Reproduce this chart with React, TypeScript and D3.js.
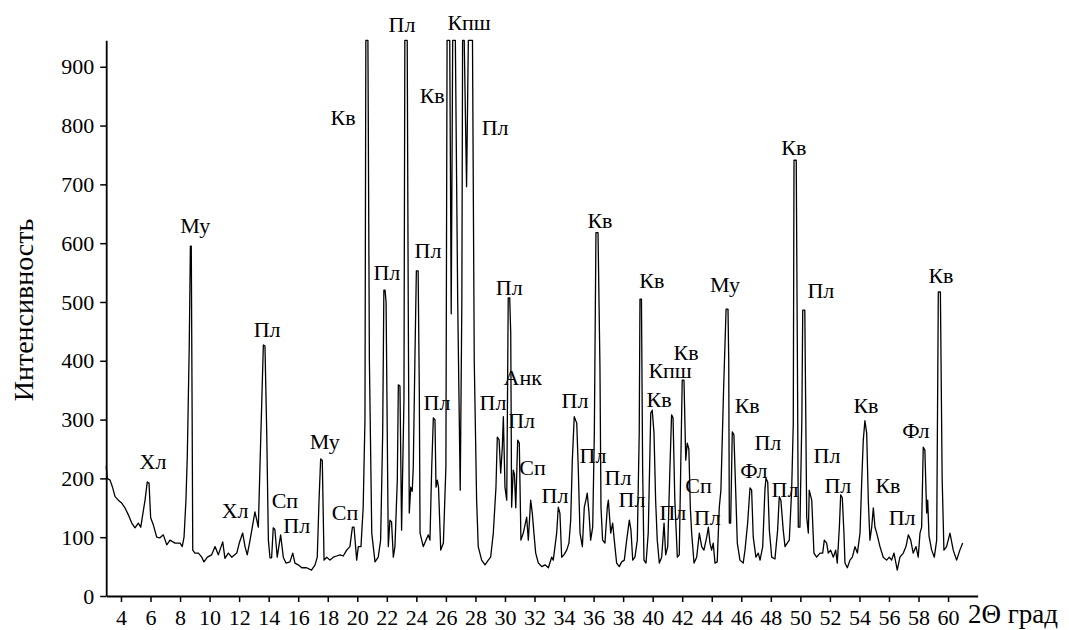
import React, { useRef, useEffect } from 'react';
import * as d3 from 'd3';

// 2θ (deg) and intensity
const twoTheta = [
  3.0, 3.07, 3.26, 3.44, 3.6, 3.82, 4.05, 4.27, 4.5, 4.73, 4.95, 5.17, 5.34, 5.47, 5.63, 5.78, 5.9, 6.01, 6.19, 6.42,
  6.64, 6.87, 7.1, 7.32, 7.66, 8.0, 8.15, 8.27, 8.4, 8.49, 8.62, 8.7, 8.76, 8.82, 8.86, 9.01, 9.24, 9.47, 9.62, 9.85,
  10.14, 10.37, 10.59, 10.89, 11.04, 11.27, 11.5, 11.84, 12.01, 12.24, 12.4, 12.55, 12.74, 13.07, 13.3, 13.41, 13.64, 13.75, 13.87, 13.98,
  14.09, 14.2, 14.31, 14.42, 14.58, 14.81, 14.99, 15.17, 15.44, 15.63, 15.78, 16.0, 16.24, 16.57, 16.9, 17.14, 17.29, 17.41, 17.52, 17.63,
  17.75, 17.93, 18.15, 18.38, 18.6, 18.83, 19.05, 19.28, 19.5, 19.67, 19.78, 19.96, 20.07, 20.25, 20.4, 20.52, 20.58, 20.72, 20.82, 20.98,
  21.2, 21.42, 21.58, 21.72, 21.8, 21.88, 21.95, 22.1, 22.21, 22.32, 22.44, 22.55, 22.71, 22.78, 22.89, 23.0, 23.16, 23.22, 23.38, 23.45,
  23.52, 23.62, 23.72, 23.79, 23.9, 24.0, 24.12, 24.2, 24.25, 24.47, 24.65, 24.81, 24.92, 25.04, 25.15, 25.26, 25.33, 25.42, 25.5, 25.65,
  25.83, 26.0, 26.08, 26.26, 26.36, 26.46, 26.64, 26.8, 26.97, 27.08, 27.13, 27.24, 27.4, 27.52, 27.8, 27.92, 28.08, 28.19, 28.42, 28.65,
  28.87, 29.03, 29.21, 29.39, 29.48, 29.6, 29.71, 29.82, 29.89, 30.0, 30.12, 30.22, 30.32, 30.39, 30.45, 30.56, 30.64, 30.73, 30.86, 30.97,
  31.08, 31.24, 31.47, 31.58, 31.74, 31.85, 31.96, 32.08, 32.26, 32.49, 32.71, 32.94, 33.16, 33.27, 33.5, 33.61, 33.72, 33.84, 33.99, 34.18,
  34.33, 34.45, 34.56, 34.69, 34.86, 34.96, 35.08, 35.24, 35.37, 35.48, 35.57, 35.69, 35.8, 35.94, 36.05, 36.16, 36.3, 36.43, 36.5, 36.61,
  36.77, 36.93, 37.0, 37.16, 37.29, 37.4, 37.56, 37.74, 37.9, 38.08, 38.24, 38.42, 38.53, 38.65, 38.8, 38.96, 39.09, 39.14, 39.24, 39.32,
  39.41, 39.55, 39.7, 39.87, 39.97, 40.09, 40.2, 40.31, 40.45, 40.61, 40.77, 40.88, 41.02, 41.17, 41.28, 41.38, 41.5, 41.67, 41.8, 41.9,
  42.0, 42.12, 42.24, 42.34, 42.45, 42.55, 42.64, 42.8, 42.98, 43.16, 43.32, 43.47, 43.66, 43.77, 43.88, 43.99, 44.1, 44.22, 44.37, 44.51,
  44.62, 44.8, 44.97, 45.1, 45.15, 45.19, 45.28, 45.39, 45.5, 45.62, 45.73, 45.91, 46.13, 46.25, 46.43, 46.59, 46.7, 46.81, 46.99, 47.15,
  47.27, 47.45, 47.6, 47.67, 47.79, 47.9, 48.06, 48.28, 48.46, 48.57, 48.68, 48.84, 48.96, 49.11, 49.25, 49.41, 49.52, 49.57, 49.72, 49.8,
  49.86, 49.97, 50.1, 50.16, 50.3, 50.43, 50.54, 50.6, 50.77, 50.92, 51.1, 51.33, 51.51, 51.62, 51.78, 51.89, 52.05, 52.23, 52.39, 52.5,
  52.64, 52.73, 52.84, 52.95, 53.02, 53.18, 53.36, 53.52, 53.7, 53.86, 54.04, 54.15, 54.26, 54.37, 54.49, 54.6, 54.71, 54.83, 54.94, 55.05,
  55.17, 55.39, 55.61, 55.84, 56.02, 56.18, 56.34, 56.56, 56.74, 56.97, 57.15, 57.31, 57.47, 57.64, 57.83, 57.98, 58.1, 58.21, 58.32, 58.43,
  58.55, 58.62, 58.71, 58.89, 59.07, 59.23, 59.34, 59.48, 59.6, 59.72, 59.9, 60.13, 60.35, 60.58, 60.8, 60.99,
];

const intensity = [
  221, 200, 197, 184, 169, 163, 158, 150, 138, 124, 116, 124, 117, 138, 163, 194, 192, 133, 121, 100,
  99, 104, 87, 95, 90, 90, 84, 100, 163, 237, 420, 595, 595, 300, 78, 73, 73, 66, 58, 66,
  70, 84, 70, 92, 64, 73, 66, 73, 90, 107, 84, 70, 95, 143, 117, 219, 427, 425, 277, 95,
  65, 65, 116, 113, 66, 104, 66, 56, 58, 73, 56, 53, 48, 48, 44, 53, 66, 163, 233, 231,
  61, 66, 61, 66, 68, 70, 68, 78, 84, 117, 117, 61, 84, 84, 151, 300, 945, 945, 400, 107,
  58, 66, 95, 277, 520, 520, 500, 84, 129, 126, 66, 84, 197, 359, 357, 112, 333, 945, 945, 500,
  141, 185, 178, 219, 400, 553, 553, 350, 107, 84, 95, 104, 95, 219, 303, 300, 185, 197, 185, 78,
  90, 220, 945, 945, 480, 945, 945, 500, 180, 500, 945, 945, 696, 945, 945, 400, 163, 84, 61, 53,
  61, 66, 107, 185, 270, 266, 209, 253, 305, 185, 163, 507, 507, 447, 151, 214, 207, 150, 265, 260,
  95, 107, 134, 95, 163, 141, 107, 73, 56, 50, 53, 48, 66, 61, 107, 151, 141, 66, 70, 78,
  90, 129, 231, 305, 294, 219, 107, 84, 151, 163, 175, 141, 95, 117, 277, 618, 618, 390, 151, 95,
  90, 151, 163, 107, 124, 95, 56, 50, 58, 61, 95, 129, 112, 61, 66, 95, 277, 505, 505, 219,
  61, 56, 107, 311, 316, 277, 163, 95, 56, 66, 124, 70, 84, 219, 308, 303, 163, 66, 70, 219,
  367, 367, 231, 260, 250, 150, 107, 56, 66, 107, 84, 78, 100, 117, 90, 78, 90, 56, 58, 151,
  180, 350, 488, 488, 400, 124, 124, 279, 274, 180, 90, 61, 56, 78, 124, 184, 180, 100, 66, 73,
  61, 84, 180, 200, 194, 112, 66, 63, 112, 169, 163, 112, 84, 90, 95, 180, 294, 741, 741, 400,
  117, 117, 300, 486, 486, 134, 107, 180, 163, 73, 66, 73, 73, 95, 90, 73, 78, 66, 78, 56,
  117, 172, 167, 107, 56, 48, 61, 66, 84, 73, 107, 192, 265, 298, 277, 163, 95, 117, 150, 117,
  107, 84, 66, 61, 66, 61, 73, 44, 66, 73, 84, 104, 95, 73, 84, 66, 107, 117, 253, 248,
  141, 163, 102, 78, 66, 95, 517, 517, 200, 78, 84, 107, 78, 61, 78, 90,
];

const yTicks = [0, 100, 200, 300, 400, 500, 600, 700, 800, 900];
const xTicks = [4, 6, 8, 10, 12, 14, 16, 18, 20, 22, 24, 26, 28, 30, 32, 34, 36, 38, 40, 42, 44, 46, 48, 50, 52, 54, 56, 58, 60];

// phase labels: text, 2θ and intensity of the label baseline centre
const labelText = [
  'Хл', 'Му', 'Хл', 'Пл', 'Сп', 'Пл', 'Му', 'Сп', 'Кв', 'Пл', 'Кпш', 'Кв', 'Пл', 'Пл', 'Пл', 'Пл',
  'Пл', 'Кв', 'Кв', 'Пл', 'Пл', 'Анк', 'Пл', 'Сп', 'Пл', 'Пл', 'Пл', 'Пл', 'Пл', 'Кв', 'Кпш', 'Кв',
  'Сп', 'Пл', 'Му', 'Кв', 'Пл', 'Фл', 'Пл', 'Пл', 'Пл', 'Кв', 'Кв', 'Пл', 'Фл', 'Кв', 'Кв', 'Пл',
];
const labelTheta = [
  6.17, 9.03, 11.73, 13.9, 15.1, 15.9, 17.8, 19.17, 19.04, 23.03, 27.57, 25.07, 29.33, 22.0, 24.79, 30.29,
  25.4, 36.43, 39.94, 29.19, 34.74, 31.2, 31.13, 31.87, 33.39, 35.96, 37.65, 38.6, 41.37, 42.26, 41.18, 40.43,
  43.1, 43.7, 44.9, 46.4, 47.8, 46.85, 48.96, 51.8, 52.54, 54.44, 55.93, 56.89, 57.82, 59.52, 49.56, 51.39,
];
const labelI = [
  216, 617, 133, 440, 150, 107, 250, 129, 801, 959, 963, 838, 784, 537, 575, 512,
  316, 626, 524, 316, 320, 359, 286, 206, 158, 226, 189, 151, 129, 401, 371, 321,
  175, 121, 517, 311, 248, 201, 168, 226, 175, 311, 175, 121, 269, 532, 750, 507,
];

const W = 1069;
const H = 630;
const FONT = 'Liberation Serif, Times New Roman, DejaVu Serif, serif';

export default function App() {
  const ref = useRef<SVGSVGElement>(null);

  useEffect(() => {
    const svg = d3.select(ref.current);
    svg.selectAll('*').remove();

    const x = d3.scaleLinear().domain([3, 62]).range([106.2, 977.6]);
    const y = d3.scaleLinear().domain([0, 945]).range([596, 40.3]);

    svg.append('rect').attr('width', W).attr('height', H).attr('fill', '#fff');

    const pts: [number, number][] = twoTheta.map((t, i) => [t, intensity[i]]);
    const line = d3.line<[number, number]>()
      .x(d => x(d[0]))
      .y(d => y(d[1]));

    svg.append('path')
      .datum(pts)
      .attr('d', line)
      .attr('fill', 'none')
      .attr('stroke', '#000')
      .attr('stroke-width', 1.3)
      .attr('stroke-linejoin', 'round');

    const yAxis = svg.append('g')
      .attr('transform', `translate(${x(3)},0)`)
      .call(d3.axisLeft(y).tickValues(yTicks).tickSize(6).tickSizeOuter(0).tickPadding(6).tickFormat(d3.format('d')));
    yAxis.select('.domain').attr('stroke-width', 1.8);
    yAxis.selectAll('.tick line').attr('stroke-width', 1.5);
    yAxis.selectAll('text')
      .style('font-family', FONT)
      .style('font-size', '22px')
      .attr('fill', '#000');

    const xAxis = svg.append('g')
      .attr('transform', `translate(0,${y(0)})`)
      .call(d3.axisBottom(x).tickValues(xTicks).tickSize(6).tickSizeOuter(0).tickPadding(7).tickFormat(d3.format('d')));
    xAxis.select('.domain').attr('stroke-width', 1.8);
    xAxis.selectAll('.tick line').attr('stroke-width', 1.5);
    xAxis.selectAll('text')
      .style('font-family', FONT)
      .style('font-size', '22px')
      .attr('fill', '#000');

    svg.append('g')
      .selectAll('text')
      .data(labelText)
      .join('text')
      .attr('x', (d, i) => x(labelTheta[i]))
      .attr('y', (d, i) => y(labelI[i]))
      .attr('text-anchor', 'middle')
      .style('font-family', FONT)
      .style('font-size', '22px')
      .attr('fill', '#000')
      .text(d => d);

    svg.append('text')
      .attr('transform', `translate(33,310) rotate(-90)`)
      .attr('text-anchor', 'middle')
      .style('font-family', FONT)
      .style('font-size', '28px')
      .text('Интенсивность');

    svg.append('text')
      .attr('x', 968)
      .attr('y', 623)
      .style('font-family', FONT)
      .style('font-size', '27px')
      .text('2Θ град');
  }, []);

  return (
    <svg ref={ref} width={W} height={H} style={{ position: 'absolute', left: 0, top: 0 }} />
  );
}
